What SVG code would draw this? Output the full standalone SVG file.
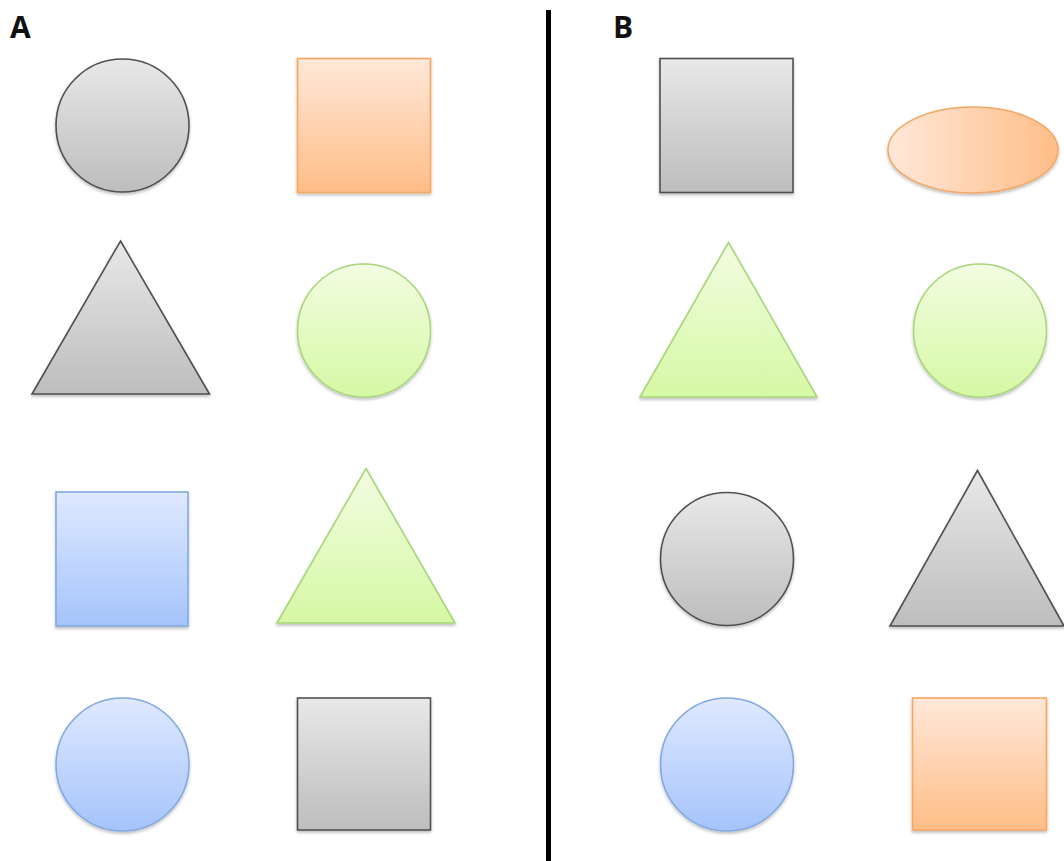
<svg xmlns="http://www.w3.org/2000/svg" width="1064" height="861" viewBox="0 0 1064 861">
  <style>
    .lbl { font-family: "Open Sans", "Liberation Sans", sans-serif; font-weight: bold; font-size: 30px; fill: #111; }
    .gray { fill: url(#gGray); stroke: #505050; stroke-width: 1.6; }
    .orange { fill: url(#gOrange); stroke: #f6a862; stroke-width: 1.6; }
    .green { fill: url(#gGreen); stroke: #a9d67c; stroke-width: 1.6; }
    .blue { fill: url(#gBlue); stroke: #84a9e0; stroke-width: 1.6; }
    .shape { filter: url(#shadow); }
  </style>
  <defs>
    <linearGradient id="gGray" x1="0" y1="0" x2="0" y2="1">
      <stop offset="0" stop-color="#e8e8e8"/>
      <stop offset="1" stop-color="#bdbdbd"/>
    </linearGradient>
    <linearGradient id="gOrange" x1="0" y1="0" x2="0" y2="1">
      <stop offset="0" stop-color="#ffe8d9"/>
      <stop offset="1" stop-color="#ffbd87"/>
    </linearGradient>
    <linearGradient id="gOrangeH" x1="0" y1="0" x2="1" y2="0">
      <stop offset="0" stop-color="#ffe8d9"/>
      <stop offset="1" stop-color="#ffbd87"/>
    </linearGradient>
    <linearGradient id="gGreen" x1="0" y1="0" x2="0" y2="1">
      <stop offset="0" stop-color="#f2fde2"/>
      <stop offset="1" stop-color="#d6f8a4"/>
    </linearGradient>
    <linearGradient id="gBlue" x1="0" y1="0" x2="0" y2="1">
      <stop offset="0" stop-color="#dfe9ff"/>
      <stop offset="1" stop-color="#a5c4fb"/>
    </linearGradient>
    <filter id="shadow" x="-10%" y="-10%" width="120%" height="125%">
      <feDropShadow dx="0" dy="2" stdDeviation="1.5" flood-color="#000" flood-opacity="0.25"/>
    </filter>
  </defs>

  <rect width="1064" height="861" fill="#ffffff"/>

  <!-- panel labels -->
  <text class="lbl" x="10" y="38">A</text>
  <text class="lbl" x="613" y="38">B</text>

  <!-- divider -->
  <g id="connectors">
    <line x1="548.5" y1="10" x2="548.5" y2="861" stroke="#000" stroke-width="5"/>
  </g>

  <!-- panel A -->
  <g id="a-gray-circle" class="shape"><circle class="gray" cx="122.5" cy="125.5" r="66.5"/></g>
  <g id="a-orange-square" class="shape"><rect class="orange" x="297.5" y="58.5" width="133" height="134"/></g>
  <g id="a-gray-triangle" class="shape"><polygon class="gray" points="120.5,241 209.5,394 32,394"/></g>
  <g id="a-green-circle" class="shape"><circle class="green" cx="364" cy="330.5" r="66.5"/></g>
  <g id="a-blue-square" class="shape"><rect class="blue" x="56" y="492" width="132" height="134"/></g>
  <g id="a-green-triangle" class="shape"><polygon class="green" points="366,468.5 455,623 277,623"/></g>
  <g id="a-blue-circle" class="shape"><circle class="blue" cx="122.5" cy="764.5" r="66.5"/></g>
  <g id="a-gray-square" class="shape"><rect class="gray" x="297.5" y="698" width="133" height="132"/></g>

  <!-- panel B -->
  <g id="b-gray-square" class="shape"><rect class="gray" x="660" y="58.5" width="133" height="134"/></g>
  <g id="b-orange-ellipse" class="shape"><ellipse cx="973" cy="150" rx="85" ry="43" fill="url(#gOrangeH)" stroke="#f2a866" stroke-width="1.6"/></g>
  <g id="b-green-triangle" class="shape"><polygon class="green" points="728.5,242.5 817,397 640,397"/></g>
  <g id="b-green-circle" class="shape"><circle class="green" cx="980" cy="330.5" r="66.5"/></g>
  <g id="b-gray-circle" class="shape"><circle class="gray" cx="727" cy="559" r="66.5"/></g>
  <g id="b-gray-triangle" class="shape"><polygon class="gray" points="977.5,470.5 1064,626 890,626"/></g>
  <g id="b-blue-circle" class="shape"><circle class="blue" cx="727" cy="764.5" r="66.5"/></g>
  <g id="b-orange-square" class="shape"><rect class="orange" x="912.5" y="698" width="134" height="132"/></g>
</svg>
